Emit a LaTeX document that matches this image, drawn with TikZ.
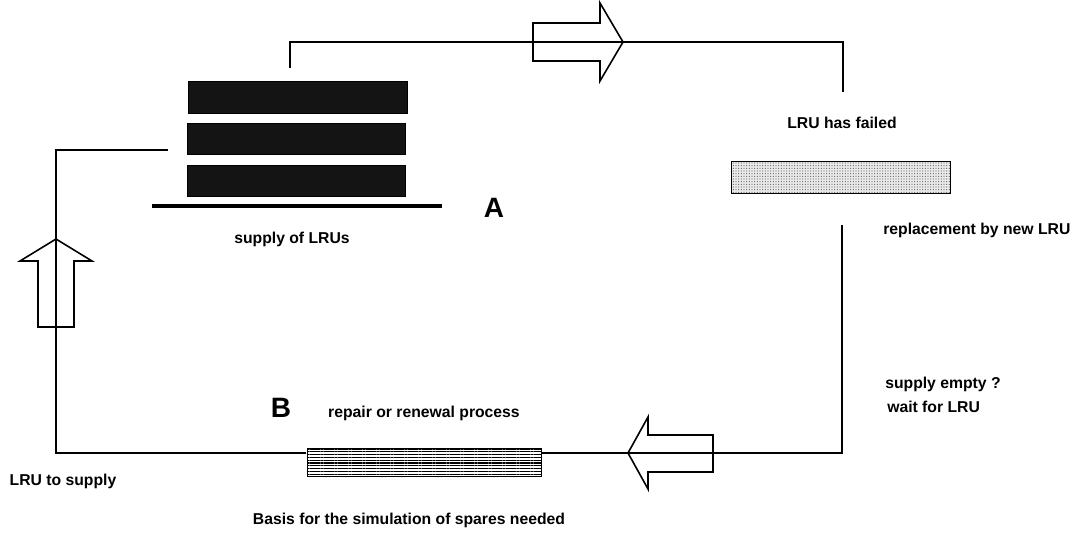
\documentclass[tikz,border=0pt]{standalone}
\usepackage{fontspec}
\setmainfont{Liberation Sans}
\usetikzlibrary{patterns.meta}
\newcommand\pxu[1]{#1*0.75pt}
\begin{document}
\begin{tikzpicture}[x=0.75pt,y=-0.75pt,
  conn/.style={line width=0.9pt, draw=black},
  blockarrow/.style={draw=black, line width=1.2pt, fill=white, line join=miter},
  box/.style={draw=black, line width=0.6pt, inner sep=0pt},
  stackbox/.style={box, fill=black!92, minimum width=\pxu{218}, minimum height=\pxu{31}},
  lbl/.style={font=\fontsize{11.8}{14}\selectfont\bfseries, inner sep=0pt},
  letter/.style={font=\fontsize{21}{24}\selectfont\bfseries, inner sep=0pt}]
\useasboundingbox (0,0) rectangle (1077,547);
\fill[white] (0,0) rectangle (1077,547);

% supply stack (A)
\node[stackbox, minimum width=\pxu{219}, minimum height=\pxu{32}] (s1) at (297.5,97) {};
\node[stackbox] (s2) at (296.5,138.5) {};
\node[stackbox] (s3) at (296.5,180.5) {};
\draw[line width=3pt] (152,206) -- (442,206);
\node[letter] (A) at (494,208) {A};
\node[lbl] (supplylbl) at (292,239) {supply of LRUs};

% failed LRU
\node[lbl] (failedlbl) at (842,123) {LRU has failed};
\node[box, minimum width=\pxu{219}, minimum height=\pxu{32},
      preaction={fill=black!8},
      pattern={Dots[distance=2pt, radius=0.45pt]}, pattern color=black!60] (fail) at (840.5,177) {};
\node[lbl, anchor=west] (replbl) at (883,230) {replacement by new LRU};
\node[lbl, anchor=west] (emptylbl) at (885,384) {supply empty ?};
\node[lbl, anchor=west] (waitlbl) at (887,407) {wait for LRU};

% repair (B)
\node[box, minimum width=\pxu{234}, minimum height=\pxu{28},
      preaction={fill=white},
      pattern={Lines[distance=2.1pt, line width=0.8pt]}, pattern color=black] (rep) at (424,462) {};
\node[letter] (B) at (281,408) {B};
\node[lbl] (replbl2) at (424,413) {repair or renewal process};
\node[lbl] (tosupply) at (63,481) {LRU to supply};
\node[lbl] (basis) at (409,520) {Basis for the simulation of spares needed};

% block arrows
\draw[blockarrow] (533,23) -- (600,23) -- (600,3) -- (623,42) -- (600,81) -- (600,61) -- (533,61) -- cycle;
\draw[blockarrow] (38,327) -- (38,261) -- (20,261) -- (56,239) -- (92,261) -- (74,261) -- (74,327) -- cycle;
\draw[blockarrow] (713,435) -- (648,435) -- (648,417) -- (628,453) -- (648,489) -- (648,472) -- (713,472) -- cycle;

% connectors
\coordinate (t0) at (290,68);
\coordinate (t1) at (290,42);
\coordinate (t2) at (843,42);
\coordinate (t3) at (843,92);
\draw[conn] (t0) -- (t1) -- (t2) -- (t3);

\coordinate (r0) at (842,225);
\coordinate (r1) at (842,453);
\draw[conn] (r0) -- (r1) -- (rep.east |- r1);

\coordinate (l1) at (56,453);
\coordinate (l2) at (56,150);
\coordinate (l3) at (168,150);
\draw[conn] (rep.west |- l1) -- (l1) -- (l2) -- (l3);
\end{tikzpicture}
\end{document}
